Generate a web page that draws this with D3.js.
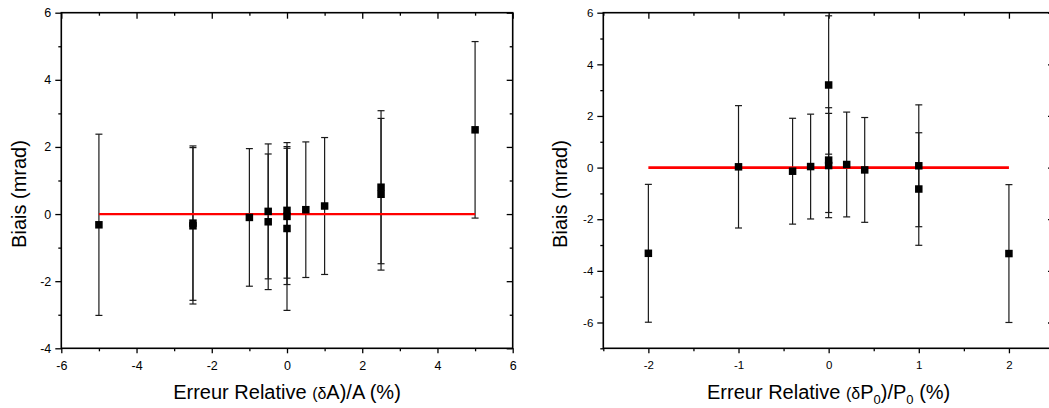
<!DOCTYPE html>
<html>
<head>
<meta charset="utf-8">
<script src="https://cdn.jsdelivr.net/npm/d3@7"></script>
<style>
  html, body { margin: 0; padding: 0; background: #fff; }
  svg { display: block; font-family: "Liberation Sans", Arial, sans-serif; }
</style>
</head>
<body>
<svg id="chart" width="1049" height="408"></svg>
<script>
// ---------- Data ----------
// Left panel: bias vs relative error on A
const leftX   = [-5, -2.5, -2.5, -1, -0.5, -0.5, 0, 0, 0, 0.5, 1, 2.5, 2.5, 5];
const leftY   = [-0.32, -0.27, -0.35, -0.10, 0.08, -0.23, 0.11, -0.07, -0.43, 0.13, 0.24, 0.80, 0.59, 2.51];
const leftErr = [2.70, 2.30, 2.33, 2.05, 2.01, 2.02, 2.02, 2.03, 2.44, 2.02, 2.04, 2.28, 2.26, 2.63];
const leftFitX = [-5, 5];
const leftFitY = [0, 0];

// Right panel: bias vs relative error on P0
const rightX   = [-2, -1, -0.4, -0.2, 0, 0, 0, 0.2, 0.4, 1, 1, 2];
const rightY   = [-3.32, 0.03, -0.14, 0.04, 3.20, 0.29, 0.08, 0.12, -0.09, 0.07, -0.83, -3.33];
const rightErr = [2.67, 2.37, 2.05, 2.03, 2.68, 2.03, 2.02, 2.03, 2.03, 2.36, 2.18, 2.67];
const rightFitX = [-2, 2];
const rightFitY = [0, 0];

// Tick values
const leftXMajor  = [-6, -4, -2, 0, 2, 4, 6];
const leftXMinor  = [-5, -3, -1, 1, 3, 5];
const leftYMajor  = [-4, -2, 0, 2, 4, 6];
const leftYMinor  = [-3, -1, 1, 3, 5];
const rightXMajor = [-2, -1, 0, 1, 2];
const rightXMinor = [-2.5, -1.5, -0.5, 0.5, 1.5, 2.5];
const rightYMajor = [-6, -4, -2, 0, 2, 4, 6];
const rightYMinor = [-7, -5, -3, -1, 1, 3, 5];

const yTitle = "Biais (mrad)";

// ---------- Drawing ----------
const svg = d3.select("#chart");
const fmt = d => String(d);   // plain hyphen-minus, as in the reference

function panel(cfg) {
  const x = d3.scaleLinear().domain(cfg.xDomain).range([cfg.left, cfg.right]);
  const y = d3.scaleLinear().domain(cfg.yDomain).range([cfg.bottom, cfg.top]);
  const g = svg.append("g");
  const fs = cfg.fontSize;

  function axis(gen, vals, size, pad, transform, labels) {
    const a = g.append("g").attr("transform", transform)
      .call(gen.tickValues(vals).tickSize(size).tickSizeOuter(0).tickPadding(pad)
        .tickFormat(labels ? fmt : ""));
    a.select(".domain").remove();
    a.selectAll("line").attr("stroke", "#000").attr("stroke-width", 1.3);
    a.selectAll("text").attr("font-size", fs).attr("fill", "#000")
      .attr("font-family", "Liberation Sans, Arial, sans-serif");
    return a;
  }
  // bottom (outward)
  axis(d3.axisBottom(x), cfg.xMajor, 5, 8, `translate(0,${cfg.bottom})`, true);
  axis(d3.axisBottom(x), cfg.xMinor, 3, 0, `translate(0,${cfg.bottom})`, false);
  // top (inward)
  axis(d3.axisTop(x), cfg.xMajor, -6, 0, `translate(0,${cfg.top})`, false);
  axis(d3.axisTop(x), cfg.xMinor, -3, 0, `translate(0,${cfg.top})`, false);
  // left (outward)
  axis(d3.axisLeft(y), cfg.yMajor, 6, 4, `translate(${cfg.left},0)`, true);
  axis(d3.axisLeft(y), cfg.yMinor, 3, 0, `translate(${cfg.left},0)`, false);
  // right (inward)
  axis(d3.axisRight(y), cfg.yMajor, -6, 0, `translate(${cfg.right},0)`, false);
  axis(d3.axisRight(y), cfg.yMinor, -3, 0, `translate(${cfg.right},0)`, false);

  // frame
  g.append("rect")
    .attr("x", cfg.left).attr("y", cfg.top)
    .attr("width", cfg.right - cfg.left).attr("height", cfg.bottom - cfg.top)
    .attr("fill", "none").attr("stroke", "#000").attr("stroke-width", 1.6);

  // error bars
  const pts = cfg.xs.map((v, i) => ({ x: v, y: cfg.ys[i], e: cfg.es[i] }));
  const eb = g.append("g").attr("stroke", "#1a1a1a").attr("stroke-width", 1.2).attr("fill", "none");
  const cap = 3.5;
  pts.forEach(p => {
    const px = x(p.x), y1 = y(p.y + p.e), y2 = y(p.y - p.e);
    eb.append("line").attr("x1", px).attr("x2", px).attr("y1", y1).attr("y2", y2);
    eb.append("line").attr("x1", px - cap).attr("x2", px + cap).attr("y1", y1).attr("y2", y1);
    eb.append("line").attr("x1", px - cap).attr("x2", px + cap).attr("y1", y2).attr("y2", y2);
  });

  // fit line
  const fit = cfg.fitX.map((v, i) => [v, cfg.fitY[i]]);
  g.append("path").datum(fit)
    .attr("d", d3.line().x(d => x(d[0])).y(d => y(d[1])))
    .attr("stroke", "#ff0000").attr("stroke-width", cfg.fitWidth).attr("fill", "none");

  // markers
  const ms = 7.5;
  g.append("g").selectAll("rect").data(pts).join("rect")
    .attr("x", d => x(d.x) - ms / 2).attr("y", d => y(d.y) - ms / 2)
    .attr("width", ms).attr("height", ms).attr("fill", "#000");

  // x title
  const cx = (cfg.left + cfg.right) / 2;
  const t = g.append("text").attr("x", cx).attr("y", 399)
    .attr("text-anchor", "middle").attr("font-size", 20).attr("fill", "#000");
  cfg.xTitle(t);

  // y title
  g.append("text")
    .attr("transform", `translate(${cfg.yTitleX},194) rotate(-90)`)
    .attr("text-anchor", "middle").attr("font-size", 20).attr("fill", "#000")
    .text(yTitle);
}

panel({
  xDomain: [-6, 6], yDomain: [-4, 6],
  left: 61.3, right: 512.7, top: 12.7, bottom: 348.3,
  xMajor: leftXMajor, xMinor: leftXMinor, yMajor: leftYMajor, yMinor: leftYMinor,
  xs: leftX, ys: leftY, es: leftErr, fitX: leftFitX, fitY: leftFitY,
  fitWidth: 2.2, fontSize: 12.5, yTitleX: 26,
  xTitle: t => {
    t.append("tspan").text("Erreur Relative ");
    t.append("tspan").attr("font-size", 16).text("(δ");
    t.append("tspan").text("A)/A (%)");
  }
});

panel({
  xDomain: [-2.5, 2.5], yDomain: [-7, 6],
  left: 603.3, right: 1054, top: 12.7, bottom: 348.3,
  xMajor: rightXMajor, xMinor: rightXMinor, yMajor: rightYMajor, yMinor: rightYMinor,
  xs: rightX, ys: rightY, es: rightErr, fitX: rightFitX, fitY: rightFitY,
  fitWidth: 2.8, fontSize: 11.5, yTitleX: 567,
  xTitle: t => {
    t.append("tspan").text("Erreur Relative ");
    t.append("tspan").attr("font-size", 16).text("(δ");
    t.append("tspan").text("P");
    t.append("tspan").attr("font-size", 13).attr("dy", 5).text("0");
    t.append("tspan").attr("dy", -5).text(")/P");
    t.append("tspan").attr("font-size", 13).attr("dy", 5).text("0");
    t.append("tspan").attr("dy", -5).text(" (%)");
  }
});
</script>
</body>
</html>
